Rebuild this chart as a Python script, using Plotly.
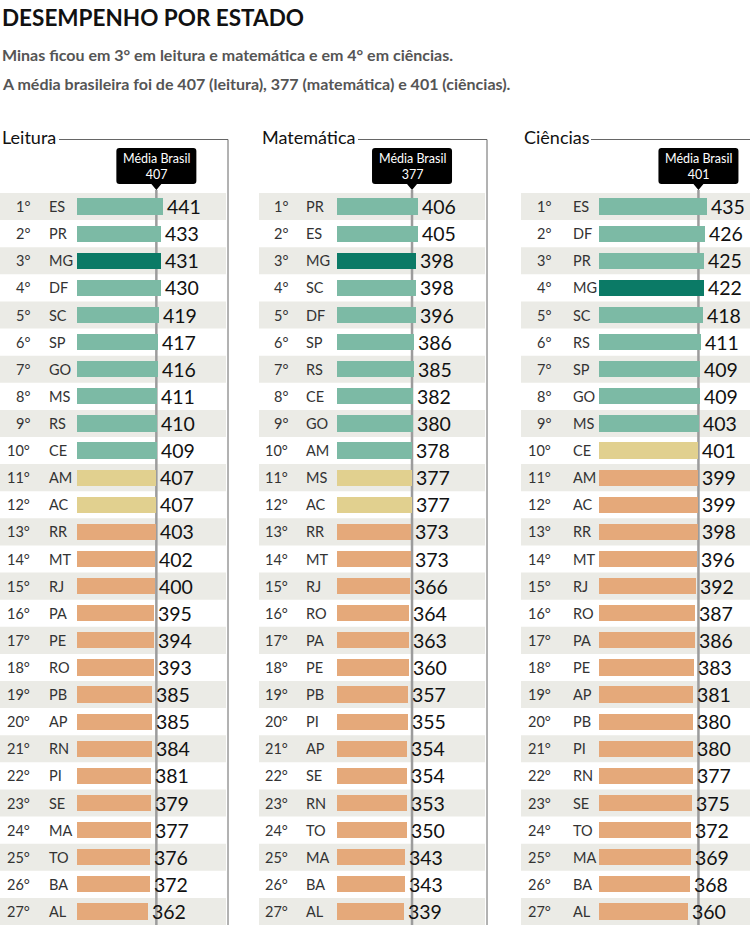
import plotly.graph_objects as go

W, H = 750, 928

# ---------------- data ----------------
leitura_states = ["ES", "PR", "MG", "DF", "SC", "SP", "GO", "MS", "RS", "CE", "AM", "AC", "RR", "MT",
                  "RJ", "PA", "PE", "RO", "PB", "AP", "RN", "PI", "SE", "MA", "TO", "BA", "AL"]
leitura_values = [441, 433, 431, 430, 419, 417, 416, 411, 410, 409, 407, 407, 403, 402,
                  400, 395, 394, 393, 385, 385, 384, 381, 379, 377, 376, 372, 362]
leitura_avg = 407

mat_states = ["PR", "ES", "MG", "SC", "DF", "SP", "RS", "CE", "GO", "AM", "MS", "AC", "RR", "MT",
              "RJ", "RO", "PA", "PE", "PB", "PI", "AP", "SE", "RN", "TO", "MA", "BA", "AL"]
mat_values = [406, 405, 398, 398, 396, 386, 385, 382, 380, 378, 377, 377, 373, 373,
              366, 364, 363, 360, 357, 355, 354, 354, 353, 350, 343, 343, 339]
mat_avg = 377

cien_states = ["ES", "DF", "PR", "MG", "SC", "RS", "SP", "GO", "MS", "CE", "AM", "AC", "RR", "MT",
               "RJ", "RO", "PA", "PE", "AP", "PB", "PI", "RN", "SE", "TO", "MA", "BA", "AL"]
cien_values = [435, 426, 425, 422, 418, 411, 409, 409, 403, 401, 399, 399, 398, 396,
               392, 387, 386, 383, 381, 380, 380, 377, 375, 372, 369, 368, 360]
cien_avg = 401

panel_titles = ["Leitura", "Matemática", "Ciências"]
highlight_state = "MG"

# ---------------- styling / layout constants ----------------
C_GREEN = "#7cbaa5"
C_DARK = "#0b7a66"
C_YELLOW = "#e1d08f"
C_ORANGE = "#e5a97a"
C_STRIPE = "#ebebe6"
FONT = "Lato"

# per panel: left edge, right edge, bar start px, px per point, rank right px, state left px, title end px, frame?
panels = [
    dict(x0=0, x1=228, bs=77, s=0.195, rank_r=32, st_l=47, title_end=59, frame=True),
    dict(x0=259, x1=487, bs=337, s=0.199, rank_r=290, st_l=304, title_end=358, frame=True),
    dict(x0=521, x1=750, bs=599, s=0.248, rank_r=553, st_l=571, title_end=591, frame=False),
]
datasets = [
    (leitura_states, leitura_values, leitura_avg),
    (mat_states, mat_values, mat_avg),
    (cien_states, cien_values, cien_avg),
]

ROW_TOP, ROW_BOT = 193, 925


def px(x):
    return x / W


def py(y):
    return 1 - y / H


fig = go.Figure()
shapes = []
annotations = []

n = len(leitura_states)

for k, (p, (states, values, avg)) in enumerate(zip(panels, datasets)):
    ax = "x" if k == 0 else f"x{k+1}"
    axname = "xaxis" if k == 0 else f"xaxis{k+1}"
    colors = []
    for st, v in zip(states, values):
        if st == highlight_state:
            colors.append(C_DARK)
        elif v > avg:
            colors.append(C_GREEN)
        elif v == avg:
            colors.append(C_YELLOW)
        else:
            colors.append(C_ORANGE)
    fig.add_trace(go.Bar(
        x=values, y=list(range(n)), orientation="h", base=0,
        marker=dict(color=colors, line=dict(width=0)), width=0.6,
        xaxis=ax, yaxis="y", hoverinfo="skip", showlegend=False,
    ))
    rng = [(p["x0"] - p["bs"]) / p["s"], (p["x1"] - p["bs"]) / p["s"]]
    fig.layout[axname] = dict(domain=[px(p["x0"]), px(p["x1"])], range=rng,
                              visible=False, fixedrange=True)

    # stripes
    for i in range(n):
        if i % 2 == 0:
            shapes.append(dict(type="rect", xref="paper", yref="y",
                               x0=px(p["x0"]), x1=px(p["x1"] - 2 if p["frame"] else p["x1"]),
                               y0=i - 0.5, y1=i + 0.5, fillcolor=C_STRIPE,
                               line=dict(width=0), layer="below"))
    # avg line
    shapes.append(dict(type="line", xref=ax, yref="paper", x0=avg, x1=avg,
                       y0=py(ROW_BOT), y1=py(190), line=dict(color="#9c9c9c", width=2.5),
                       layer="below"))
    # frame
    shapes.append(dict(type="line", xref="paper", yref="paper",
                       x0=px(p["title_end"]), x1=px(p["x1"]), y0=py(139.5), y1=py(139.5),
                       line=dict(color="#666", width=1)))
    if p["frame"]:
        shapes.append(dict(type="line", xref="paper", yref="paper",
                           x0=px(p["x1"]), x1=px(p["x1"]), y0=py(139.5), y1=py(ROW_BOT),
                           line=dict(color="#666", width=1)))
    # tooltip box
    cx = p["bs"] + p["s"] * avg
    L, R, T, B, r = cx - 40, cx + 40, 148, 184, 3
    path = (f"M {px(L + r)},{py(T)} L {px(R - r)},{py(T)} Q {px(R)},{py(T)} {px(R)},{py(T + r)} "
            f"L {px(R)},{py(B - r)} Q {px(R)},{py(B)} {px(R - r)},{py(B)} "
            f"L {px(cx + 5)},{py(B)} L {px(cx)},{py(B + 6)} L {px(cx - 5)},{py(B)} "
            f"L {px(L + r)},{py(B)} Q {px(L)},{py(B)} {px(L)},{py(B - r)} "
            f"L {px(L)},{py(T + r)} Q {px(L)},{py(T)} {px(L + r)},{py(T)} Z")
    shapes.append(dict(type="path", xref="paper", yref="paper", path=path,
                       fillcolor="#000", line=dict(width=0)))
    annotations.append(dict(x=avg, xref=ax, y=py(166), yref="paper",
                            text=f"Média Brasil<br>{avg}", showarrow=False,
                            font=dict(family=FONT, size=12.5, color="white"),
                            xanchor="center", yanchor="middle", align="center"))
    # panel title
    annotations.append(dict(x=px(p["x0"] + 1 if k else 0), xref="paper", y=py(137), yref="paper",
                            text=panel_titles[k], showarrow=False, xanchor="left", yanchor="middle",
                            font=dict(family=FONT, size=18, color="#111")))
    # labels
    for i, (st, v) in enumerate(zip(states, values)):
        annotations.append(dict(x=px(p["rank_r"]), xref="paper", y=i, yref="y",
                                text=f"{i+1}°", showarrow=False, xanchor="right", yanchor="middle",
                                font=dict(family=FONT, size=14.5, color="#333")))
        annotations.append(dict(x=px(p["st_l"]), xref="paper", y=i, yref="y",
                                text=st, showarrow=False, xanchor="left", yanchor="middle",
                                font=dict(family=FONT, size=14.5, color="#333")))
        annotations.append(dict(x=v, xref=ax, y=i, yref="y", xshift=2,
                                text=str(v), showarrow=False, xanchor="left", yanchor="middle",
                                font=dict(family=FONT, size=19.5, color="#111")))

# title and subtitle
annotations.append(dict(x=0, xref="paper", y=py(17.5), yref="paper", text="DESEMPENHO POR ESTADO",
                        showarrow=False, xanchor="left", yanchor="middle",
                        font=dict(family=FONT, size=22.5, color="#111", weight=700)))
annotations.append(dict(x=0, xref="paper", y=py(54), yref="paper",
                        text="Minas ficou em 3° em leitura e matemática e em 4° em ciências.",
                        showarrow=False, xanchor="left", yanchor="middle",
                        font=dict(family=FONT, size=16, color="#555", weight=700)))
annotations.append(dict(x=0, xref="paper", y=py(83), yref="paper",
                        text="A média brasileira foi de 407 (leitura), 377 (matemática) e 401 (ciências).",
                        showarrow=False, xanchor="left", yanchor="middle",
                        font=dict(family=FONT, size=16, color="#555", weight=700)))

fig.update_layout(
    width=W, height=H, margin=dict(l=0, r=0, t=0, b=0),
    paper_bgcolor="white", plot_bgcolor="white",
    yaxis=dict(domain=[py(ROW_BOT), py(ROW_TOP)], range=[n - 0.5, -0.5], visible=False,
               fixedrange=True),
    shapes=shapes, annotations=annotations, bargap=0, showlegend=False,
)

fig.write_html("out.html", config={"displayModeBar": False})
